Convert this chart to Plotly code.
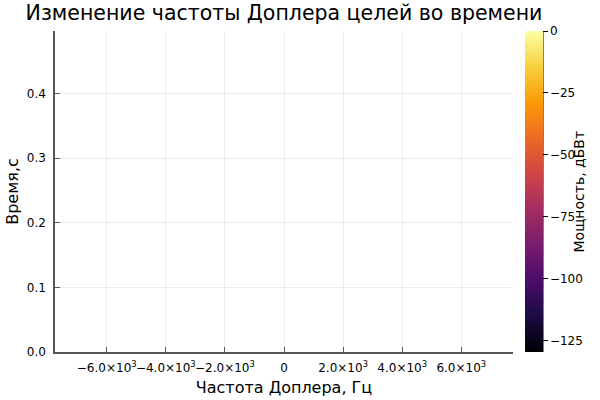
import plotly.graph_objects as go

# Data (the reference heatmap area is empty: power values are not finite)
doppler_hz = [-7750, 7750]
time_s = [0.0, 0.497]
power_dbw = [[None, None], [None, None]]
power_range = [-129.5, 0.0]

x_tickvals = [-6000, -4000, -2000, 0, 2000, 4000, 6000]
x_ticktext = ["−6.0×10<sup>3</sup>", "−4.0×10<sup>3</sup>", "−2.0×10<sup>3</sup>", "0",
              "2.0×10<sup>3</sup>", "4.0×10<sup>3</sup>", "6.0×10<sup>3</sup>"]
y_tickvals = [0.0, 0.1, 0.2, 0.3, 0.4]
cb_tickvals = [0, -25, -50, -75, -100, -125]
cb_ticktext = ["0", "−25", "−50", "−75", "−100", "−125"]

FONT = "DejaVu Sans"
L, R, T, B = 55, 87, 31, 48
PW = 600 - L - R
CB_LEFT, CB_THICK = 525, 18

colorbar = dict(
    x=(CB_LEFT - L) / PW, xanchor="left", xpad=0, ypad=0,
    y=0.5, yanchor="middle", len=1, lenmode="fraction",
    thickness=CB_THICK, outlinewidth=0,
    ticks="outside", ticklen=5, tickcolor="black",
    tickvals=cb_tickvals, ticktext=cb_ticktext,
    tickfont=dict(family=FONT, size=12, color="black"),
)

fig = go.Figure()
fig.add_trace(go.Heatmap(
    x=doppler_hz, y=time_s, z=power_dbw,
    zmin=power_range[0], zmax=power_range[1],
    colorscale="Inferno", showscale=False,
))
# invisible carrier of the colour scale so the colour bar is drawn
fig.add_trace(go.Scatter(
    x=[None, None], y=[None, None], mode="markers", showlegend=False,
    hoverinfo="skip",
    marker=dict(color=power_range, cmin=power_range[0], cmax=power_range[1],
                colorscale="Inferno", showscale=True, colorbar=colorbar),
))

cb_edge = (CB_LEFT + CB_THICK - L) / PW
fig.update_layout(
    width=600, height=400,
    margin=dict(l=L, r=R, t=T, b=B, autoexpand=False),
    paper_bgcolor="white", plot_bgcolor="white",
    showlegend=False,
    title=dict(text="Изменение частоты Доплера целей во времени",
               x=(L + 600 - R) / 2 / 600, xanchor="center", y=1 - 13 / 400, yanchor="middle",
               font=dict(family=FONT, size=20.5, color="black"), automargin=False),
    font=dict(family=FONT, color="black"),
    shapes=[dict(type="line", xref="paper", yref="paper",
                 x0=cb_edge, x1=cb_edge, y0=0, y1=1,
                 line=dict(color="black", width=1))],
    annotations=[dict(text="Мощность, дБВт", textangle=-90,
                      x=(578 - L) / PW, y=0.5, xref="paper", yref="paper",
                      xanchor="center", yanchor="middle", showarrow=False,
                      font=dict(family=FONT, size=14, color="black"))],
)

fig.update_xaxes(
    range=[doppler_hz[0], doppler_hz[-1]],
    tickvals=x_tickvals, ticktext=x_ticktext, tickangle=0,
    tickfont=dict(family=FONT, size=12, color="black"),
    ticklabelstandoff=4,
    title=dict(text="Частота Доплера, Гц", font=dict(family=FONT, size=16, color="black"), standoff=8),
    showgrid=True, gridcolor="rgba(0,0,0,0.07)", gridwidth=1,
    showline=True, linecolor="#555555", linewidth=1.5,
    ticks="inside", ticklen=5, tickcolor="#555555",
    zeroline=False, mirror=False, automargin=False,
)
fig.update_yaxes(
    range=[time_s[0], time_s[-1]],
    tickvals=y_tickvals, tickformat=".1f",
    tickfont=dict(family=FONT, size=12, color="black"),
    ticklabelstandoff=5,
    title=dict(text="Время,с", font=dict(family=FONT, size=16, color="black"), standoff=4),
    showgrid=True, gridcolor="rgba(0,0,0,0.07)", gridwidth=1,
    showline=True, linecolor="#555555", linewidth=1.5,
    ticks="inside", ticklen=5, tickcolor="#555555",
    zeroline=False, mirror=False, automargin=False,
)

fig.write_html("out.html", config={"displayModeBar": False},
               post_script="document.body.style.margin='0';")
